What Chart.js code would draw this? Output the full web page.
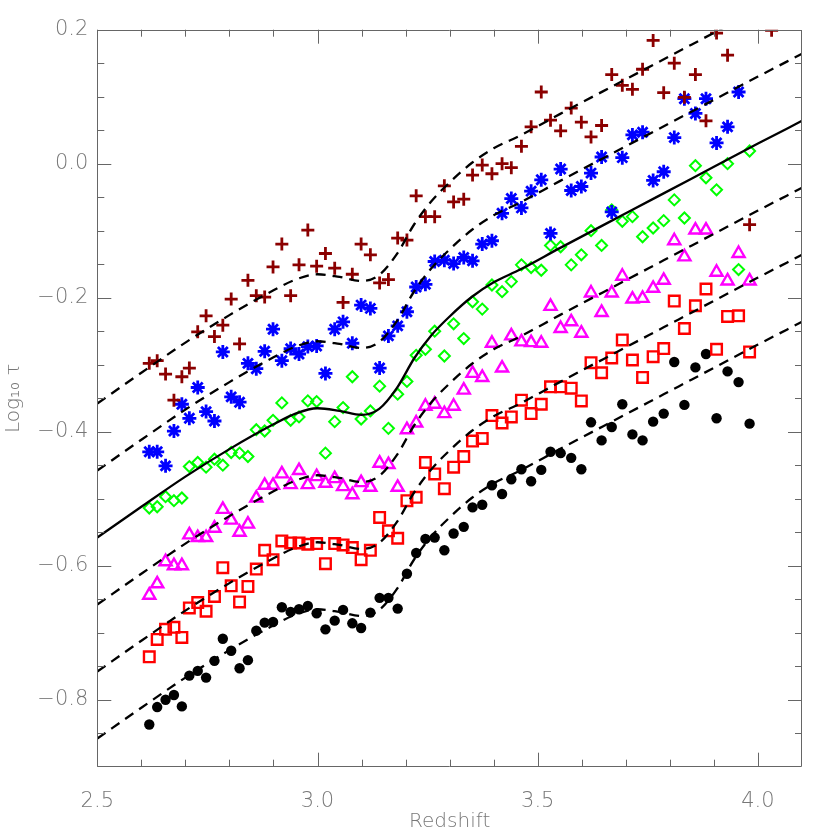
<!DOCTYPE html>
<html>
<head>
<meta charset="utf-8">
<script src="https://cdn.jsdelivr.net/npm/chart.js@4.4.0/dist/chart.umd.min.js"></script>
<style>
  html, body { margin: 0; padding: 0; background: #fff; }
  #wrap { width: 830px; height: 830px; }
</style>
</head>
<body>
<div id="wrap"><canvas id="tauChart"></canvas></div>
<script>
// redshift bins shared by all the point series
const redshift = [
  2.618, 2.636, 2.655, 2.674, 2.692, 2.709, 2.728, 2.747, 2.766, 2.785,
  2.804, 2.823, 2.842, 2.861, 2.880, 2.899, 2.919, 2.939, 2.958, 2.978,
  2.998, 3.018, 3.039, 3.058, 3.079, 3.099, 3.120, 3.141, 3.161, 3.182,
  3.203, 3.224, 3.245, 3.266, 3.288, 3.309, 3.332, 3.352, 3.374, 3.396,
  3.419, 3.440, 3.463, 3.485, 3.508, 3.529, 3.552, 3.576, 3.599, 3.621,
  3.645, 3.668, 3.692, 3.715, 3.738, 3.762, 3.786, 3.810, 3.833, 3.858,
  3.882, 3.906, 3.931, 3.956, 3.981, 4.031
];

// log10 tau for each series (null = no point)
const tauPlus = [
  -0.298, -0.294, -0.314, -0.353, -0.318, -0.305, -0.251, -0.227, -0.258, -0.241,
  -0.202, -0.269, -0.174, -0.197, -0.199, -0.154, -0.120, -0.197, -0.151, -0.099,
  -0.153, -0.134, -0.156, -0.207, -0.165, -0.120, -0.136, -0.178, -0.173, -0.111,
  -0.114, -0.048, -0.079, -0.079, -0.033, -0.057, -0.053, -0.017, -0.002, -0.015,
  0.000, -0.006, 0.026, 0.055, 0.107, 0.065, 0.049, 0.083, 0.062, 0.040,
  0.057, 0.133, 0.117, 0.111, 0.141, 0.184, 0.106, 0.150, 0.099, 0.133,
  0.064, 0.195, 0.162, null, -0.091, 0.199
];
const tauStar = [
  -0.430, -0.430, -0.451, -0.399, -0.359, -0.380, -0.334, -0.370, -0.384, -0.281,
  -0.348, -0.356, -0.298, -0.306, -0.280, -0.247, -0.294, -0.276, -0.284, -0.273,
  -0.272, -0.313, -0.247, -0.236, -0.268, -0.211, -0.216, -0.305, -0.257, -0.242,
  -0.221, -0.184, -0.180, -0.146, -0.144, -0.149, -0.140, -0.145, -0.120, -0.115,
  -0.074, -0.052, -0.066, -0.041, -0.024, -0.104, -0.008, -0.040, -0.034, -0.014,
  0.010, -0.072, 0.009, 0.043, 0.047, -0.025, -0.012, 0.039, 0.097, 0.075,
  0.097, 0.031, 0.055, 0.107, null, null
];
const tauDiamond = [
  -0.514, -0.512, -0.497, -0.503, -0.499, -0.452, -0.446, -0.453, -0.441, -0.450,
  -0.431, -0.432, -0.437, -0.397, -0.399, -0.383, -0.357, -0.383, -0.378, -0.354,
  -0.355, -0.432, -0.385, -0.364, -0.318, -0.381, -0.369, -0.332, -0.395, -0.344,
  -0.325, -0.286, -0.277, -0.250, -0.287, -0.239, -0.261, -0.206, -0.217, -0.181,
  -0.191, -0.176, -0.151, -0.155, -0.159, -0.122, -0.124, -0.151, -0.136, -0.100,
  -0.122, -0.069, -0.086, -0.079, -0.109, -0.096, -0.085, -0.054, -0.081, -0.003,
  -0.021, -0.039, 0.000, -0.158, 0.019, null
];
const tauTriangle = [
  -0.644, -0.627, -0.594, -0.600, -0.600, -0.554, -0.558, -0.558, -0.544, -0.516,
  -0.532, -0.550, -0.538, -0.499, -0.480, -0.480, -0.463, -0.479, -0.458, -0.479,
  -0.467, -0.477, -0.470, -0.482, -0.494, -0.476, -0.483, -0.447, -0.449, -0.483,
  -0.397, -0.387, -0.362, -0.359, -0.373, -0.362, -0.338, -0.313, -0.319, -0.268,
  -0.305, -0.257, -0.266, -0.267, -0.268, -0.213, -0.246, -0.236, -0.253, -0.193,
  -0.222, -0.193, -0.168, -0.202, -0.201, -0.186, -0.174, -0.115, -0.139, -0.099,
  -0.099, -0.162, -0.175, -0.134, -0.175, null
];
const tauSquare = [
  -0.736, -0.710, -0.695, -0.692, -0.707, -0.663, -0.655, -0.668, -0.646, -0.603,
  -0.630, -0.654, -0.631, -0.605, -0.577, -0.591, -0.563, -0.566, -0.566, -0.568,
  -0.567, -0.597, -0.567, -0.569, -0.573, -0.591, -0.577, -0.528, -0.548, -0.559,
  -0.503, -0.498, -0.446, -0.463, -0.485, -0.453, -0.437, -0.414, -0.410, -0.376,
  -0.387, -0.378, -0.353, -0.373, -0.359, -0.333, -0.333, -0.335, -0.354, -0.297,
  -0.312, -0.290, -0.263, -0.293, -0.319, -0.288, -0.276, -0.205, -0.246, -0.212,
  -0.187, -0.277, -0.228, -0.227, -0.281, null
];
const tauCircle = [
  -0.837, -0.811, -0.800, -0.793, -0.810, -0.764, -0.757, -0.767, -0.742, -0.709,
  -0.727, -0.753, -0.741, -0.697, -0.685, -0.684, -0.662, -0.669, -0.665, -0.660,
  -0.671, -0.695, -0.682, -0.666, -0.686, -0.693, -0.670, -0.648, -0.648, -0.664,
  -0.612, -0.581, -0.560, -0.558, -0.577, -0.552, -0.542, -0.513, -0.509, -0.480,
  -0.493, -0.471, -0.456, -0.474, -0.457, -0.430, -0.432, -0.439, -0.456, -0.386,
  -0.413, -0.393, -0.359, -0.404, -0.413, -0.385, -0.373, -0.296, -0.360, -0.304,
  -0.284, -0.380, -0.310, -0.326, -0.388, null
];

// model curve (solid) and its shifted copies (dashed)
const curveZ = [2.50, 2.60, 2.70, 2.80, 2.90, 2.95, 3.00, 3.05, 3.10, 3.14, 3.18,
                3.22, 3.26, 3.30, 3.35, 3.40, 3.46, 3.55, 3.70, 3.85, 4.00, 4.10];
const curveMid = [-0.558, -0.512, -0.467, -0.426, -0.389, -0.373, -0.365, -0.369, -0.375, -0.366, -0.335,
                  -0.290, -0.255, -0.228, -0.199, -0.177, -0.158, -0.126, -0.074, -0.022, 0.030, 0.064];
const curveUp2 = [-0.358, -0.312, -0.267, -0.226, -0.189, -0.173, -0.165, -0.169, -0.175, -0.166, -0.135,
                  -0.090, -0.055, -0.028, 0.001, 0.023, 0.042, 0.074, 0.126, 0.178, 0.230, 0.264];
const curveUp1 = [-0.458, -0.412, -0.367, -0.326, -0.289, -0.273, -0.265, -0.269, -0.275, -0.266, -0.235,
                  -0.190, -0.155, -0.128, -0.099, -0.077, -0.058, -0.026, 0.026, 0.078, 0.130, 0.164];
const curveDn1 = [-0.658, -0.612, -0.567, -0.526, -0.489, -0.473, -0.465, -0.469, -0.475, -0.466, -0.435,
                  -0.390, -0.355, -0.328, -0.299, -0.277, -0.258, -0.226, -0.174, -0.122, -0.070, -0.036];
const curveDn2 = [-0.758, -0.712, -0.667, -0.626, -0.589, -0.573, -0.565, -0.569, -0.575, -0.566, -0.535,
                  -0.490, -0.455, -0.428, -0.399, -0.377, -0.358, -0.326, -0.274, -0.222, -0.170, -0.136];
const curveDn3 = [-0.858, -0.812, -0.767, -0.726, -0.689, -0.673, -0.665, -0.669, -0.675, -0.666, -0.635,
                  -0.590, -0.555, -0.528, -0.499, -0.477, -0.458, -0.426, -0.374, -0.322, -0.270, -0.236];

// axis ticks
const xTickValues = [2.5, 3.0, 3.5, 4.0];
const yTickValues = [-0.8, -0.6, -0.4, -0.2, 0.0, 0.2];
const xMinorTicks = [2.6, 2.7, 2.8, 2.9, 3.1, 3.2, 3.3, 3.4, 3.6, 3.7, 3.8, 3.9];
const yMinorTicks = [-0.85, -0.75, -0.70, -0.65, -0.55, -0.50, -0.45, -0.35, -0.30, -0.25,
                     -0.15, -0.10, -0.05, 0.05, 0.10, 0.15];

function toPoints(ys) {
    return redshift.map((z, i) => ys[i] === null ? null : { x: z, y: ys[i] }).filter(p => p);
}
function curvePoints(ys) {
    return curveZ.map((z, i) => ({ x: z, y: ys[i] }));
}
function lineSet(ys, dashed) {
    return {
        data: curvePoints(ys),
        showLine: true,
        borderColor: '#000',
        borderWidth: 2.3,
        borderDash: dashed ? [10, 7] : [],
        pointRadius: 0,
        cubicInterpolationMode: 'monotone',
        fill: false
    };
}
function markerSet(ys, style, color, radius, width, filled) {
    return {
        data: toPoints(ys),
        pointStyle: style,
        pointRadius: radius,
        pointBorderWidth: width,
        pointBorderColor: color,
        pointBackgroundColor: filled ? color : 'rgba(0,0,0,0)'
    };
}

const labelFont = { family: 'DejaVu Sans', size: 21, weight: 200 };
const labelColor = '#777';

// frame and inward ticks on all four sides, IDL style
const frameTicks = {
    id: 'frameTicks',
    afterDatasetsDraw(chart) {
        const { ctx, chartArea: a, scales: { x, y } } = chart;
        ctx.save();
        ctx.strokeStyle = '#666';
        ctx.lineWidth = 1;
        ctx.beginPath();
        ctx.rect(Math.round(a.left) + 0.5, Math.round(a.top) + 0.5,
                 Math.round(a.width) - 1, Math.round(a.height) - 1);
        const xTick = (v, len) => {
            const px = Math.round(x.getPixelForValue(v)) + 0.5;
            ctx.moveTo(px, a.bottom); ctx.lineTo(px, a.bottom - len);
            ctx.moveTo(px, a.top); ctx.lineTo(px, a.top + len);
        };
        const yTick = (v, len) => {
            const py = Math.round(y.getPixelForValue(v)) + 0.5;
            ctx.moveTo(a.left, py); ctx.lineTo(a.left + len, py);
            ctx.moveTo(a.right, py); ctx.lineTo(a.right - len, py);
        };
        xTickValues.forEach(v => xTick(v, 14));
        xMinorTicks.forEach(v => xTick(v, 7));
        yTickValues.forEach(v => yTick(v, 14));
        yMinorTicks.forEach(v => yTick(v, 7));
        ctx.stroke();
        ctx.restore();
    }
};

const ctx = document.getElementById('tauChart').getContext('2d');
new Chart(ctx, {
    type: 'scatter',
    data: {
        datasets: [
            lineSet(curveUp2, true),
            lineSet(curveUp1, true),
            lineSet(curveMid, false),
            lineSet(curveDn1, true),
            lineSet(curveDn2, true),
            lineSet(curveDn3, true),
            markerSet(tauPlus, 'cross', '#8b0000', 6.5, 2.8, false),
            markerSet(tauStar, 'star', '#0000ff', 7, 2.8, false),
            markerSet(tauDiamond, 'rectRot', '#00ff00', 5.5, 2, false),
            markerSet(tauTriangle, 'triangle', '#ff00ff', 7, 2.4, false),
            markerSet(tauSquare, 'rect', '#ff0000', 7.5, 2.4, false),
            markerSet(tauCircle, 'circle', '#000000', 5.2, 0, true)
        ]
    },
    options: {
        responsive: true,
        maintainAspectRatio: false,
        animation: false,
        events: [],
        layout: { padding: { left: 0, right: 28, top: 29.7, bottom: 0 } },
        plugins: {
            legend: { display: false },
            tooltip: { enabled: false }
        },
        scales: {
            x: {
                type: 'linear',
                min: 2.5,
                max: 4.1,
                afterBuildTicks: s => { s.ticks = xTickValues.map(v => ({ value: v })); },
                afterFit: s => { s.height = 63.3; },
                grid: { display: false, drawTicks: false },
                border: { display: false },
                ticks: {
                    autoSkip: false,
                    maxRotation: 0,
                    padding: 22,
                    color: labelColor,
                    font: labelFont,
                    callback: v => v.toFixed(1)
                },
                title: {
                    display: true,
                    text: 'Redshift',
                    color: labelColor,
                    font: { family: 'DejaVu Sans', size: 20, weight: 200, lineHeight: 0.8 },
                    padding: { top: 0, bottom: 0 }
                }
            },
            y: {
                type: 'linear',
                min: -0.9,
                max: 0.2,
                afterBuildTicks: s => { s.ticks = yTickValues.map(v => ({ value: v })); },
                afterFit: s => { s.width = 97.3; },
                grid: { display: false, drawTicks: false },
                border: { display: false },
                ticks: {
                    autoSkip: false,
                    padding: 9,
                    color: labelColor,
                    font: labelFont,
                    callback: v => (v < -1e-9 ? '\u2212' : '') + Math.abs(v).toFixed(1)
                },
                title: {
                    display: true,
                    text: 'Log\u2081\u2080 \u03c4',
                    color: labelColor,
                    font: { family: 'DejaVu Sans', size: 20, weight: 200, lineHeight: 1 },
                    padding: { top: 4, bottom: 0 }
                }
            }
        }
    },
    plugins: [frameTicks]
});
</script>
</body>
</html>
